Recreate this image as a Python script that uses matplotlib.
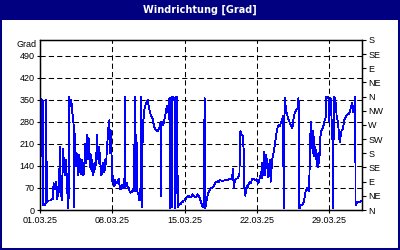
import matplotlib
matplotlib.use("Agg")
import matplotlib.pyplot as plt
import matplotlib.dates as mdates
from matplotlib.patches import Rectangle
import pandas as pd

# Windrichtung, Tage seit 01.03.25 und Grad
tage = [
    0.00, 0.03, 0.06, 0.13, 0.16, 0.20, 0.27, 0.30, 0.45, 0.55, 0.58, 0.62, 0.65, 0.80, 0.94,
    1.10, 1.23, 1.32, 1.40, 1.48, 1.58, 1.68, 1.75, 1.81, 1.94, 1.98, 2.06, 2.13, 2.19, 2.26,
    2.32, 2.40, 2.45, 2.50, 2.55, 2.60, 2.65, 2.68, 2.78, 2.81, 2.90, 3.03, 3.10, 3.16, 3.26,
    3.30, 3.34, 3.39, 3.48, 3.55, 3.61, 3.68, 3.74, 3.80, 3.87, 3.94, 4.00, 4.06, 4.13, 4.20,
    4.26, 4.33, 4.39, 4.45, 4.48, 4.55, 4.58, 4.65, 4.70, 4.77, 4.84, 4.90, 4.97, 5.03,
    5.10, 5.19, 5.27, 5.35, 5.45, 5.51, 5.56, 5.61, 5.68, 5.74, 5.80, 5.87, 5.94, 6.00, 6.08,
    6.16, 6.24, 6.32, 6.40, 6.48, 6.56, 6.64, 6.71, 6.76, 6.80, 6.85, 6.90, 6.95, 7.00, 7.06,
    7.13, 7.20, 7.29, 7.37, 7.45, 7.53, 7.61, 7.69, 7.77, 7.85, 7.93, 8.02, 8.10, 8.17, 8.19,
    8.22, 8.30, 8.42, 8.50, 8.58, 8.66, 8.74, 8.82, 8.90, 8.98, 9.06, 9.12, 9.16, 9.20, 9.26,
    9.33, 9.39, 9.45, 9.55, 9.63, 9.71, 9.80, 9.84, 9.87, 9.95, 10.03, 10.11, 10.19,
    10.26, 10.34, 10.42, 10.50, 10.58, 10.66, 10.74, 10.82, 10.90, 10.98, 11.07, 11.15, 11.23,
    11.31, 11.39, 11.47, 11.55, 11.62, 11.68, 11.72, 11.76, 11.84, 11.94, 12.03, 12.13, 12.21,
    12.29, 12.36, 12.42, 12.48, 12.52, 12.56, 12.62, 12.66, 12.72, 12.77, 12.81, 12.90, 12.97,
    13.03, 13.06, 13.12, 13.16, 13.22, 13.29, 13.33, 13.40, 13.49, 13.57, 13.65, 13.73, 13.81,
    13.89, 13.97, 14.05, 14.13, 14.21, 14.29, 14.37, 14.45, 14.53, 14.61, 14.69, 14.77, 14.85,
    14.94, 15.02, 15.10, 15.18, 15.26, 15.34, 15.42, 15.50,
    15.58, 15.65, 15.75, 15.84, 15.88, 15.94, 16.00, 16.06, 16.13, 16.21, 16.30, 16.38, 16.46,
    16.54, 16.62, 16.70, 16.78, 16.86, 16.94, 17.02, 17.10, 17.18, 17.26, 17.34, 17.42, 17.58,
    17.75, 17.90, 18.07, 18.23, 18.39, 18.50, 18.60, 18.68, 18.72, 18.75, 18.82, 18.88, 19.00,
    19.10, 19.20, 19.30, 19.36, 19.39, 19.45, 19.52, 19.58, 19.62, 19.68, 19.72, 19.76, 19.78,
    19.83, 19.88, 19.94, 20.00, 20.08, 20.17, 20.25, 20.33, 20.41, 20.49, 20.57, 20.65, 20.72,
    20.80, 20.88, 20.96, 21.04, 21.10, 21.14, 21.20, 21.27, 21.33, 21.40, 21.47, 21.53, 21.58,
    21.62, 21.69, 21.73, 21.78, 21.84, 21.91, 21.97, 22.04, 22.10, 22.14, 22.19, 22.24, 22.28,
    22.33, 22.38, 22.43, 22.48, 22.53, 22.60, 22.66, 22.72, 22.75, 22.80, 22.85, 22.92, 22.98,
    23.05, 23.14, 23.22, 23.30, 23.37, 23.43, 23.49, 23.53, 23.59, 23.64, 23.69, 23.74, 23.78,
    23.86, 23.95, 24.03, 24.11, 24.19, 24.27, 24.35, 24.43, 24.50, 24.59, 24.67, 24.75, 24.83,
    24.91, 24.96, 25.01, 25.06, 25.11, 25.18, 25.24, 25.32, 25.40, 25.48, 25.56, 25.64, 25.72,
    25.80, 25.88, 25.94, 26.04,
    26.13, 26.20, 26.26, 26.31, 26.36, 26.41, 26.46, 26.50, 26.55, 26.60, 26.65, 26.70, 26.75,
    26.80, 26.84, 26.89, 26.94, 26.99, 27.04, 27.09, 27.13, 27.18, 27.23, 27.30, 27.36, 27.42,
    27.49, 27.55, 27.62, 27.67, 27.71, 27.79, 27.87, 27.92, 27.97, 28.01, 28.04, 28.09, 28.13,
    28.18, 28.23, 28.28, 28.33, 28.36, 28.39, 28.43, 28.46, 28.52, 28.59, 28.65, 28.71, 28.77,
    28.84, 28.90, 28.95, 29.00, 29.06, 29.12, 29.17, 29.25, 29.33, 29.41, 29.49, 29.57, 29.65,
    29.73, 29.81, 29.89, 29.97, 30.05, 30.13, 30.18, 30.23, 30.28, 30.33, 30.38, 30.42, 30.45,
    30.49, 30.52, 30.55, 30.62, 30.71, 30.80, 30.88, 30.94, 31.02, 31.10, 31.17,
]
grad = [
    350, 5, 355, 350, 170, 350, 345, 15, 15, 20, 350, 340, 25, 30, 30,
    32, 35, 85, 65, 70, 90, 35, 60, 55, 200, 50, 45, 30, 150, 195,
    120, 140, 110, 160, 130, 100, 60, 5, 40, 360, 330, 350, 320, 300, 270,
    10, 250, 200, 140, 180, 170, 110, 120, 175, 150, 115, 130, 160, 140, 110,
    120, 175, 210, 150, 170, 240, 220, 160, 230, 200, 150, 130, 175, 140,
    110, 120, 150, 130, 170, 240, 200, 180, 150, 200, 160, 140, 110, 120, 150,
    135, 120, 160, 145, 200, 230, 270, 285, 230, 180, 250, 210, 150, 90, 110,
    80, 75, 95, 85, 85, 90, 100, 80, 65, 70, 80, 70, 75, 80, 360,
    70, 75, 85, 70, 70, 60, 55, 58, 58, 65, 60, 60, 360, 355, 60,
    240, 160, 50, 50, 30, 30, 360, 15, 10, 280, 290, 320, 330,
    340, 345, 350, 335, 320, 310, 300, 295, 290, 275, 265, 255, 255,
    250, 250, 255, 260, 275, 280, 45, 270, 280, 270, 285, 300, 315,
    330, 320, 310, 330, 355, 5, 15, 355, 350, 10, 360, 355, 350,
    355, 5, 10, 355, 360, 360, 10, 15, 15, 20, 20, 25, 25,
    30, 30, 35, 35, 40, 40, 45, 45, 40, 40, 45, 50, 45,
    45, 40, 40, 45, 50, 45, 40, 35,
    25, 20, 10, 15, 190, 355, 5, 20, 30, 45, 55, 60, 65,
    70, 70, 72, 75, 80, 85, 88, 90, 90, 92, 90, 95, 93,
    93, 95, 95, 97, 100, 98, 105, 130, 100, 70, 85, 95, 100,
    100, 105, 110, 200, 250, 245, 240, 240, 235, 210, 190, 120, 70,
    55, 45, 65, 75, 70, 80, 85, 90, 85, 95, 100, 100, 97,
    95, 95, 98, 92, 90, 85, 95, 100, 110, 120, 100, 150, 125,
    110, 185, 150, 110, 140, 175, 150, 120, 105, 110, 140, 160, 120,
    90, 110, 140, 160, 170, 180, 190, 205, 210, 225, 235, 250, 260,
    265, 270, 265, 275, 280, 285, 295, 300, 5, 200, 355, 340, 330,
    310, 300, 290, 285, 275, 270, 265, 260, 280, 300, 310, 315, 320,
    320, 335, 355, 340, 5, 10, 15, 15, 18, 20, 30, 45, 60,
    65, 70, 65, 60,
    170, 280, 230, 250, 200, 180, 250, 220, 170, 185, 200, 160, 190,
    170, 140, 135, 170, 180, 150, 195, 230, 240, 250, 255, 260, 265,
    275, 285, 290, 300, 360, 360, 360, 355, 280, 300, 330, 345, 355,
    320, 290, 250, 200, 170, 5, 300, 360, 355, 350, 330, 300, 290,
    280, 260, 240, 215, 225, 240, 250, 255, 260, 275, 290, 295, 300,
    300, 305, 305, 310, 320, 330, 335, 340, 320, 310, 330, 320, 340,
    360, 250, 15, 20, 25, 25, 25, 25, 28, 30, 30,
]

y_ticks = [0, 70, 140, 210, 280, 350, 420, 490]
datum_ticks = ["2025-03-01", "2025-03-08", "2025-03-15", "2025-03-22", "2025-03-29"]
richtungen = ["N", "NE", "E", "SE", "S", "SW", "W", "NW", "N", "NE", "E", "SE", "S"]
titel = "Windrichtung [Grad]"
navy = "#000080"

plt.rcParams["font.family"] = ["Liberation Sans", "DejaVu Sans"]

start = pd.Timestamp("2025-03-01")
zeit = start + pd.to_timedelta(tage, unit="D")

fig = plt.figure(figsize=(4, 2.5), dpi=100)
fig.patch.set_facecolor("white")

# Titelleiste und Rahmen
fig.patches.append(Rectangle((0, 0.92), 1, 0.08, transform=fig.transFigure,
                             facecolor=navy, edgecolor="none", zorder=0))
fig.patches.append(Rectangle((0, 0), 1, 1, transform=fig.transFigure,
                             fill=False, edgecolor=navy, lw=2.9, zorder=5))
fig.text(0.5, 0.96, titel, color="white", fontsize=7, fontweight="bold",
         ha="center", va="center", family=["DejaVu Sans"])

ax = fig.add_axes([0.1, 0.16, 0.805, 0.68])
ax.plot(zeit, grad, color="#0000ff", lw=0.6, antialiased=False, zorder=3)

ax.set_ylim(0, 540)
ax.set_xlim(start, start + pd.Timedelta(days=31.17))
ax.set_yticks(y_ticks)
ax.set_yticklabels([str(v) for v in y_ticks])
ax.set_xticks(pd.to_datetime(datum_ticks))
ax.xaxis.set_major_formatter(mdates.DateFormatter("%d.%m.%y"))
ax.tick_params(axis="both", labelsize=6.5, length=2, width=0.8, pad=2, colors="black")

ax.grid(True, color="black", linestyle=(0, (5, 3)), lw=0.75)
for s in ax.spines.values():
    s.set_linewidth(1.0)

ax.text(-0.01, 525, "Grad", transform=ax.get_yaxis_transform(), ha="right",
        va="center", fontsize=6.5)

ax2 = ax.twinx()
ax2.set_ylim(0, 540)
ax2.set_yticks(range(0, 541, 45))
ax2.set_yticklabels(richtungen)
ax2.tick_params(axis="y", labelsize=6.5, length=3, width=0.8, pad=1.5)

fig.savefig("out.png", dpi=100, facecolor="white")
